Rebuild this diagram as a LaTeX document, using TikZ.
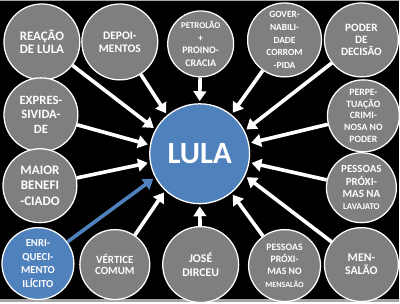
\documentclass[tikz,border=0pt]{standalone}
\usepackage{fontspec}
\setmainfont{Carlito}
\usepackage{xcolor}
\usetikzlibrary{arrows.meta}

\definecolor{cinza}{RGB}{127,127,127}
\definecolor{azul}{RGB}{79,129,189}
\definecolor{moldura}{RGB}{165,165,165}

\begin{document}
\begin{tikzpicture}[x=0.025cm, y=-0.025cm,
    bola/.style={circle, draw=white, line width=0.9pt, fill=cinza, text=white,
        align=center, inner sep=0pt, minimum size=#1},
    tam/.style 2 args={font=\bfseries\fontsize{#1}{#2}\selectfont},
    seta/.style={-{Triangle[length=7pt, width=9pt]}, draw=white, line width=2.6pt,
        shorten >=1.5pt}]
    % Fundo e moldura
    \fill[black] (0,0) rectangle (400,302);
    \fill[moldura] (0,0) rectangle (400,1.3);
    \fill[moldura] (0,299) rectangle (400,302);

    % Circulo central
    \node[bola=2.5cm, fill=azul, tam={22}{24}] (lula) at (200,154) {LULA};

    % Circulos de cima
    \node[bola=1.9cm, tam={9.2}{9.3}] (reacao) at (42,42) {REAÇÃO\\DE LULA};
    \node[bola=1.9cm, tam={8.2}{9.3}] (depoimentos) at (120,42) {DEPOI-\\MENTOS};
    \node[bola=1.65cm, tam={7.1}{8.8}] (petrolao) at (201,44)
        {{\fontsize{6.3}{8.8}\selectfont PETROLÃO}\\+\\PROINO-\\CRACIA};
    \node[bola=1.85cm, tam={6.7}{9}] (governab) at (285,40)
        {GOVER-\\NABILI-\\DADE\\CORROM\\-PIDA};
    \node[bola=1.85cm, tam={8}{8.3}] (poder) at (362,40) {PODER\\DE\\DECISÃO};

    % Circulos dos lados
    \node[bola=1.85cm, tam={9}{10.3}] (express) at (41,115) {EXPRES-\\SIVIDA-\\DE};
    \node[bola=1.85cm, tam={9.3}{11}] (maior) at (40,186) {MAIOR\\BENEFI\\-CIADO};
    \node[bola=1.8cm, tam={6.9}{8.4}] (perpetuacao) at (364,116)
        {PERPE-\\TUAÇÃO\\CRIMI-\\NOSA NO\\PODER};
    \node[bola=1.75cm, tam={7.8}{8.7}] (proxlavajato) at (362,188)
        {PESSOAS\\PRÓXI-\\MAS NA\\{\fontsize{6.3}{8.7}\selectfont LAVAJATO}};

    % Circulos de baixo
    \node[bola=1.8cm, fill=azul, tam={7.6}{9.5}] (enriq) at (38,264)
        {ENRI-\\QUECI-\\MENTO\\ILÍCITO};
    \node[bola=1.75cm, tam={7.8}{8.3}] (vertice) at (115,265) {VÉRTICE\\COMUM};
    \node[bola=1.9cm, tam={8.4}{9.3}] (dirceu) at (201,265) {JOSÉ\\DIRCEU};
    \node[bola=1.8cm, tam={7}{8.7}] (proxmensalao) at (285,266)
        {PESSOAS\\PRÓXI-\\MAS NO\\{\fontsize{5.7}{8.7}\selectfont MENSALÃO}};
    \node[bola=1.85cm, tam={8.4}{9.3}] (mensalao) at (362,265) {MEN-\\SALÃO};

    % Setas para o centro
    \foreach \no/\ang in {reacao/151, depoimentos/130, petrolao/90, governab/51.5,
        poder/27.5, perpetuacao/12, proxlavajato/-10, mensalao/-26,
        proxmensalao/-51.5, dirceu/-90, vertice/-133.5, maior/-170, express/170}
        \draw[seta] (\no) -- (lula.\ang);
    \draw[seta, draw=azul] (enriq) -- (lula.-152);
\end{tikzpicture}
\end{document}
